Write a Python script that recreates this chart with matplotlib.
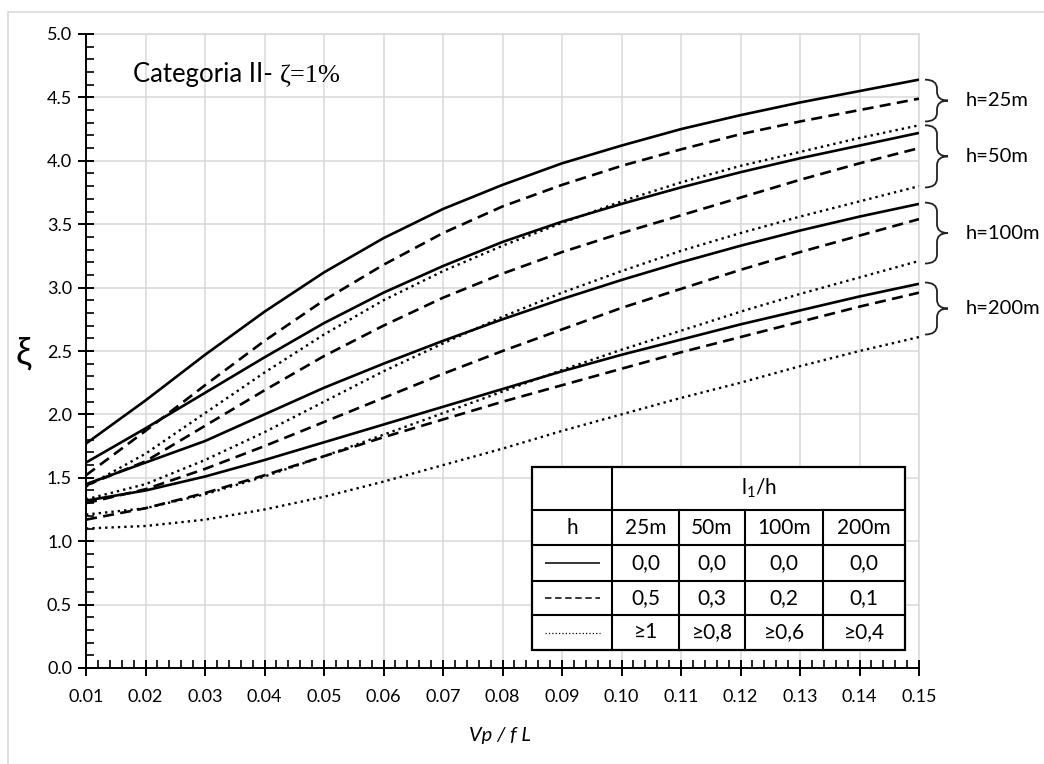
import matplotlib
matplotlib.use("Agg")
import matplotlib.pyplot as plt
from matplotlib.path import Path
from matplotlib.patches import PathPatch, Rectangle
from matplotlib.ticker import MultipleLocator, FormatStrFormatter
from matplotlib.transforms import blended_transform_factory

plt.rcParams['font.family'] = ['Lato', 'DejaVu Sans']
plt.rcParams['mathtext.fontset'] = 'custom'
plt.rcParams['mathtext.rm'] = 'Lato'
plt.rcParams['mathtext.it'] = 'Lato:italic'

# ---- data -----------------------------------------------------------------
vp_fl = [0.01, 0.02, 0.03, 0.04, 0.05, 0.06, 0.07, 0.08,
         0.09, 0.10, 0.11, 0.12, 0.13, 0.14, 0.15]

# h = 25 m
xi_h25_a = [1.77, 2.11, 2.47, 2.81, 3.12, 3.39, 3.62, 3.81, 3.98, 4.12, 4.25, 4.36, 4.46, 4.55, 4.64]
xi_h25_b = [1.52, 1.87, 2.23, 2.58, 2.90, 3.18, 3.43, 3.64, 3.81, 3.96, 4.09, 4.21, 4.31, 4.40, 4.49]
xi_h25_c = [1.43, 1.69, 2.01, 2.33, 2.63, 2.90, 3.13, 3.33, 3.51, 3.68, 3.83, 3.96, 4.07, 4.18, 4.28]
# h = 50 m
xi_h50_a = [1.62, 1.89, 2.17, 2.45, 2.72, 2.96, 3.17, 3.36, 3.52, 3.66, 3.79, 3.91, 4.02, 4.12, 4.22]
xi_h50_b = [1.44, 1.63, 1.91, 2.19, 2.46, 2.70, 2.92, 3.11, 3.28, 3.43, 3.57, 3.71, 3.85, 3.98, 4.10]
xi_h50_c = [1.33, 1.45, 1.64, 1.86, 2.10, 2.34, 2.56, 2.77, 2.96, 3.13, 3.29, 3.43, 3.56, 3.68, 3.80]
# h = 100 m
xi_h100_a = [1.45, 1.62, 1.79, 2.00, 2.21, 2.40, 2.58, 2.75, 2.91, 3.06, 3.20, 3.33, 3.45, 3.56, 3.66]
xi_h100_b = [1.30, 1.41, 1.57, 1.75, 1.94, 2.13, 2.32, 2.50, 2.67, 2.84, 2.99, 3.14, 3.28, 3.41, 3.54]
xi_h100_c = [1.21, 1.26, 1.37, 1.51, 1.67, 1.84, 2.01, 2.18, 2.35, 2.51, 2.66, 2.81, 2.95, 3.08, 3.21]
# h = 200 m
xi_h200_a = [1.32, 1.40, 1.51, 1.64, 1.78, 1.92, 2.06, 2.20, 2.34, 2.47, 2.59, 2.71, 2.82, 2.93, 3.03]
xi_h200_b = [1.17, 1.26, 1.38, 1.52, 1.67, 1.82, 1.96, 2.10, 2.23, 2.36, 2.49, 2.61, 2.73, 2.85, 2.96]
xi_h200_c = [1.10, 1.12, 1.17, 1.25, 1.35, 1.47, 1.60, 1.73, 1.87, 2.00, 2.13, 2.25, 2.38, 2.50, 2.61]

heights = ["25m", "50m", "100m", "200m"]
group_labels = ["h=25m", "h=50m", "h=100m", "h=200m"]
ratio_a = ["0,0", "0,0", "0,0", "0,0"]
ratio_b = ["0,5", "0,3", "0,2", "0,1"]
ratio_c = ["\u22651", "\u22650,8", "\u22650,6", "\u22650,4"]

xticks = [0.01, 0.02, 0.03, 0.04, 0.05, 0.06, 0.07, 0.08,
          0.09, 0.10, 0.11, 0.12, 0.13, 0.14, 0.15]
yticks = [0.0, 0.5, 1.0, 1.5, 2.0, 2.5, 3.0, 3.5, 4.0, 4.5, 5.0]

groups = [
    (xi_h25_a, xi_h25_b, xi_h25_c),
    (xi_h50_a, xi_h50_b, xi_h50_c),
    (xi_h100_a, xi_h100_b, xi_h100_c),
    (xi_h200_a, xi_h200_b, xi_h200_c),
]

# ---- styles ---------------------------------------------------------------
STYLE_A = dict(color="black", lw=1.9, linestyle="-", solid_capstyle="butt",
               solid_joinstyle="round")
STYLE_B = dict(color="black", lw=1.9, linestyle=(0, (4.2, 2.4)), dash_capstyle="butt")
STYLE_C = dict(color="black", lw=1.7, linestyle=(0, (1.0, 1.7)), dash_capstyle="butt")
GRID = "#d9d9d9"

W, H = 1044, 764
fig = plt.figure(figsize=(W / 100, H / 100), dpi=100)
fig.patch.set_facecolor("white")

# outer chart frame
fig.add_artist(Rectangle((8 / W, -0.01), 1.02 - 8 / W, 1.01 - 12 / H,
                         transform=fig.transFigure, fill=False,
                         edgecolor=GRID, lw=1.2))

def fx(px):
    return px / W

def fy(py):
    return 1 - py / H

ax_l, ax_r, ax_t, ax_b = 86, 919, 34, 668
ax = fig.add_axes([fx(ax_l), fy(ax_b), (ax_r - ax_l) / W, (ax_b - ax_t) / H])
ax.set_xlim(0.01, 0.15)
ax.set_ylim(0.0, 5.0)

for s in ("top", "right"):
    ax.spines[s].set_visible(False)
for s in ("left", "bottom"):
    ax.spines[s].set_linewidth(1.4)
    ax.spines[s].set_zorder(5)

ax.set_xticks(xticks)
ax.set_yticks(yticks)
ax.xaxis.set_major_formatter(FormatStrFormatter("%.2f"))
ax.yaxis.set_major_formatter(FormatStrFormatter("%.1f"))
ax.xaxis.set_minor_locator(MultipleLocator(0.002))
ax.yaxis.set_minor_locator(MultipleLocator(0.1))
ax.tick_params(axis="both", which="major", direction="inout", length=12,
               width=1.4, labelsize=13, colors="black")
ax.tick_params(axis="both", which="minor", direction="in", length=5.5, width=1.2)
ax.tick_params(axis="x", which="major", pad=9)
ax.tick_params(axis="y", which="major", pad=4)
ax.grid(True, which="major", color=GRID, lw=1.1)
ax.set_axisbelow(True)
# top / right grid borders
ax.axhline(5.0, color=GRID, lw=1.1, zorder=0.5, clip_on=False)
ax.axvline(0.15, color=GRID, lw=1.1, zorder=0.5, clip_on=False)

for a, b, c in groups:
    ax.plot(vp_fl, c, zorder=3, **STYLE_C)
    ax.plot(vp_fl, b, zorder=3, **STYLE_B)
    ax.plot(vp_fl, a, zorder=3, **STYLE_A)

# ---- group braces on the right --------------------------------------------
brace_spans = [(4.64, 4.31), (4.28, 3.79), (3.67, 3.19), (3.04, 2.63)]
span_px = ax_r - ax_l
x0 = 1 + 6 / span_px
x1 = 1 + 18 / span_px
x2 = 1 + 29 / span_px
r = 0.07
bt = blended_transform_factory(ax.transAxes, ax.transData)
for (ytop, ybot), lab in zip(brace_spans, group_labels):
    ym = (ytop + ybot) / 2
    verts = [(x0, ytop), (x1, ytop), (x1, ytop - r),
             (x1, ym + r),
             (x1, ym), (x2, ym),
             (x1, ym), (x1, ym - r),
             (x1, ybot + r),
             (x1, ybot), (x0, ybot)]
    codes = [Path.MOVETO, Path.CURVE3, Path.CURVE3,
             Path.LINETO,
             Path.CURVE3, Path.CURVE3,
             Path.CURVE3, Path.CURVE3,
             Path.LINETO,
             Path.CURVE3, Path.CURVE3]
    ax.add_patch(PathPatch(Path(verts, codes), transform=bt, fill=False,
                           edgecolor="#222222", lw=1.3, clip_on=False))
    ax.text(1 + 47 / span_px, ym, lab, transform=bt, ha="left", va="center",
            fontsize=14.5, color="black", clip_on=False)

# ---- title inside the plot ------------------------------------------------
t1 = ax.text(0.0179, 4.62, "Categoria II- ", fontsize=18.5, ha="left",
             va="baseline", color="black")
fig.canvas.draw()
renderer = fig.canvas.get_renderer()
bb = t1.get_window_extent(renderer)
x_end = ax.transData.inverted().transform((bb.x1, bb.y0))[0]
ax.text(x_end, 4.62, "\u03b6=1%", fontsize=19, ha="left", va="baseline",
        family=["Liberation Serif", "DejaVu Serif"], color="black")

# ---- axis labels ----------------------------------------------------------
fig.text(fx(24), fy(354), "\u03be", fontsize=26, ha="center", va="center",
         family=["Liberation Sans", "DejaVu Sans"])
fig.text(fx(500), fy(736), "Vp / f L", fontsize=14.5, ha="center", va="center",
         style="italic")

# ---- legend table ---------------------------------------------------------
col_px = [532, 612, 679, 745, 823, 905]
row_px = [467, 510, 545, 581, 615, 650]
tab = fig.add_axes([fx(col_px[0]), fy(row_px[-1]),
                    (col_px[-1] - col_px[0]) / W, (row_px[-1] - row_px[0]) / H])
tab.set_xlim(col_px[0], col_px[-1])
tab.set_ylim(row_px[-1], row_px[0])
tab.axis("off")
tab.add_patch(Rectangle((col_px[0], row_px[0]), col_px[-1] - col_px[0],
                        row_px[-1] - row_px[0], facecolor="white",
                        edgecolor="black", lw=1.6, clip_on=False, zorder=1))
LW_T = 1.5
for yy in row_px[1:-1]:
    tab.plot([col_px[0], col_px[-1]], [yy, yy], color="black", lw=LW_T,
             clip_on=False, zorder=2)
tab.plot([col_px[1], col_px[1]], [row_px[0], row_px[-1]], color="black",
         lw=LW_T, clip_on=False, zorder=2)
for xx in col_px[2:-1]:
    tab.plot([xx, xx], [row_px[1], row_px[-1]], color="black", lw=LW_T,
             clip_on=False, zorder=2)

def cx(i):
    return (col_px[i] + col_px[i + 1]) / 2

def cy(j):
    return (row_px[j] + row_px[j + 1]) / 2

TF = 15
tab.text((col_px[1] + col_px[-1]) / 2, cy(0), r"$\mathrm{l_1/h}$", fontsize=TF,
         ha="center", va="center", zorder=3)
tab.text(cx(0), cy(1), "h", fontsize=TF, ha="center", va="center", zorder=3)
for i, lab in enumerate(heights):
    tab.text(cx(i + 1), cy(1), lab, fontsize=TF, ha="center", va="center", zorder=3)
for j, (row, sty) in enumerate(zip([ratio_a, ratio_b, ratio_c],
                                   [STYLE_A, STYLE_B, STYLE_C])):
    s = dict(sty)
    s["lw"] = 1.1
    if j == 2:
        s["lw"] = 0.9
    tab.plot([545, 600], [cy(j + 2), cy(j + 2)], zorder=3, **s)
    for i, lab in enumerate(row):
        tab.text(cx(i + 1), cy(j + 2), lab, fontsize=TF, ha="center",
                 va="center", zorder=3)

fig.savefig("out.png", dpi=100, facecolor="white")
